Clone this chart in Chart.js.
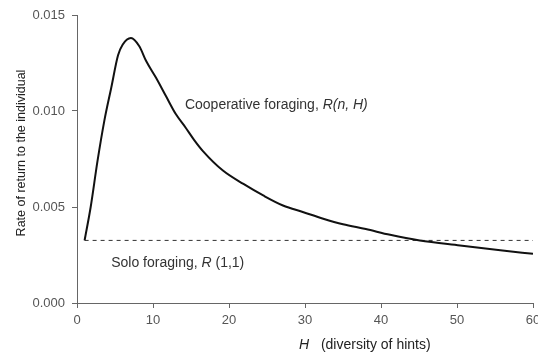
<!DOCTYPE html>
<html>
<head>
<meta charset="utf-8">
<script src="https://cdn.jsdelivr.net/npm/chart.js@4.4.1/dist/chart.umd.min.js"></script>
<style>
  html, body { margin: 0; padding: 0; background: #fff; }
  #wrap { width: 538px; height: 354px; }
</style>
</head>
<body>
<div id="wrap"><canvas id="grafico"></canvas></div>
<script>
// diversity of hints H
const hValues = [1, 1.8, 2.7, 3.6, 4.5, 5.4, 6, 7.1, 8.2, 9.1, 10.4, 11.7, 13, 14.3, 15.4,
                 16.6, 19.2, 21.9, 24.5, 27.1, 29.8, 32.4, 35, 38, 41.2, 45.1, 50.4, 55.7, 60];
// cooperative foraging R(n, H)
const coopValues = [0.00326, 0.0050, 0.0074, 0.0095, 0.0112, 0.0129, 0.01345, 0.0138, 0.01337,
                    0.0126, 0.01173, 0.01078, 0.00984, 0.00913, 0.0085, 0.0079, 0.0069, 0.0062,
                    0.0056, 0.00508, 0.00473, 0.00439, 0.0041, 0.00385, 0.00355, 0.00326,
                    0.0030, 0.00275, 0.00256];
// solo foraging R(1,1)
const soloH = [1, 60];
const soloValues = [0.00326, 0.00326];

const yTicks = [0, 0.005, 0.010, 0.015];
const xTicks = [0, 10, 20, 30, 40, 50, 60];

const fam = "'Liberation Sans', Arial, sans-serif";

// texts on the plot and axis titles
const textos = {
  id: 'textos',
  afterDraw(chart) {
    const ctx = chart.ctx;
    const x = chart.scales.x, y = chart.scales.y;
    ctx.save();
    ctx.fillStyle = '#333';
    ctx.textBaseline = 'middle';
    ctx.textAlign = 'left';

    function partes(px, py, trozos, size) {
      trozos.forEach(t => {
        ctx.font = (t[1] ? 'italic ' : '') + size + 'px ' + fam;
        ctx.fillText(t[0], px, py);
        px += ctx.measureText(t[0]).width;
      });
    }
    partes(x.getPixelForValue(14.2), y.getPixelForValue(0.0103),
           [['Cooperative foraging, ', false], ['R(n, H)', true]], 14);
    partes(x.getPixelForValue(4.5), y.getPixelForValue(0.00207),
           [['Solo foraging, ', false], ['R', true], [' (1,1)', false]], 14);

    // x axis title
    ctx.fillStyle = '#222';
    const tx = x.getPixelForValue(29.2);
    partes(tx, 345, [['H', true]], 14);
    partes(tx + 22, 345, [['(diversity of hints)', false]], 14);

    // y axis title
    ctx.translate(22, 153);
    ctx.rotate(-Math.PI / 2);
    ctx.textAlign = 'center';
    ctx.font = '12.5px ' + fam;
    ctx.fillText('Rate of return to the individual', 0, 0);
    ctx.restore();
  }
};

new Chart(document.getElementById('grafico'), {
  type: 'line',
  data: {
    datasets: [
      {
        label: 'Cooperative foraging',
        data: hValues.map((h, i) => ({ x: h, y: coopValues[i] })),
        borderColor: '#111',
        borderWidth: 2,
        pointRadius: 0,
        tension: 0.4,
        cubicInterpolationMode: 'monotone',
        fill: false
      },
      {
        label: 'Solo foraging',
        data: soloH.map((h, i) => ({ x: h, y: soloValues[i] })),
        borderColor: '#333',
        borderWidth: 1,
        borderDash: [4, 4],
        pointRadius: 0,
        fill: false
      }
    ]
  },
  options: {
    responsive: true,
    maintainAspectRatio: false,
    animation: false,
    layout: { padding: { top: 15, right: 5, left: 0, bottom: 0 } },
    plugins: {
      legend: { display: false },
      tooltip: { enabled: false }
    },
    scales: {
      x: {
        type: 'linear',
        min: 0,
        max: 60,
        afterFit: s => { s.height = 51; s.paddingRight = 0; s.paddingLeft = 0; },
        afterBuildTicks: s => { s.ticks = xTicks.map(v => ({ value: v })); },
        grid: { drawOnChartArea: false, tickLength: 5, color: '#666' },
        border: { color: '#666', width: 1 },
        ticks: {
          font: { family: fam, size: 13 },
          color: '#555',
          padding: 5
        }
      },
      y: {
        min: 0,
        max: 0.015,
        afterFit: s => { s.width = 77; s.paddingTop = 0; s.paddingBottom = 0; },
        afterBuildTicks: s => { s.ticks = yTicks.map(v => ({ value: v })); },
        grid: { drawOnChartArea: false, tickLength: 5, color: '#666' },
        border: { color: '#666', width: 1 },
        ticks: {
          font: { family: fam, size: 13 },
          color: '#555',
          padding: 7,
          callback: v => v.toFixed(3)
        }
      }
    }
  },
  plugins: [textos]
});
</script>
</body>
</html>
